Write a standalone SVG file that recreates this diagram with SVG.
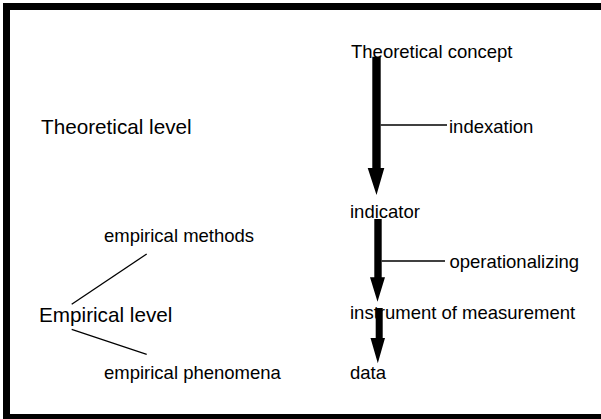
<svg xmlns="http://www.w3.org/2000/svg" width="601" height="419" viewBox="0 0 601 419">
<style>
.t{font-family:"Liberation Sans",Arial,sans-serif;font-size:18.5px;fill:#000}
.b{font-size:20.7px}
.ln{stroke:#000;stroke-width:1.3;fill:none}
.ar{fill:#000;stroke:none}
</style>
<rect x="0" y="0" width="601" height="419" fill="#fff"/>
<rect x="6.5" y="6.5" width="620" height="411" fill="none" stroke="#000" stroke-width="7"/>
<g id="n-theoretical-level"><text class="t b" x="41" y="134">Theoretical level</text></g>
<g id="n-empirical-level"><text class="t b" x="39" y="321.7">Empirical level</text></g>
<g id="n-empirical-methods"><text class="t" x="104" y="241.7">empirical methods</text></g>
<g id="n-empirical-phenomena"><text class="t" x="104" y="379">empirical phenomena</text></g>
<g id="n-theoretical-concept"><text class="t" x="351" y="58">Theoretical concept</text></g>
<g id="n-indicator"><text class="t" x="350" y="218.3">indicator</text></g>
<g id="n-instrument"><text class="t" x="350" y="319">instrument of measurement</text></g>
<g id="n-data"><text class="t" x="350" y="379">data</text></g>
<g id="n-indexation"><text class="t" x="449" y="133">indexation</text></g>
<g id="n-operationalizing"><text class="t" x="449.5" y="268.3">operationalizing</text></g>
<g id="connectors">
<polygon class="ar" points="372.3,56.7 380.7,56.7 380.7,168 384.3,168 376.5,195 367.7,168 372.3,168"/>
<polygon class="ar" points="374.3,219 381.7,219 381.7,277.3 385,277.3 377.5,301.7 370,277.3 374.3,277.3"/>
<polygon class="ar" points="375.7,308 382.7,308 382.7,338 385,338 377.8,363.3 370.5,338 375.7,338"/>
<line class="ln" x1="380.7" y1="125" x2="447" y2="125"/>
<line class="ln" x1="381.7" y1="261" x2="445" y2="261"/>
<line class="ln" x1="71.7" y1="304.3" x2="146.7" y2="254"/>
<line class="ln" x1="71.7" y1="329.3" x2="146.7" y2="354.3"/>
</g>
</svg>
